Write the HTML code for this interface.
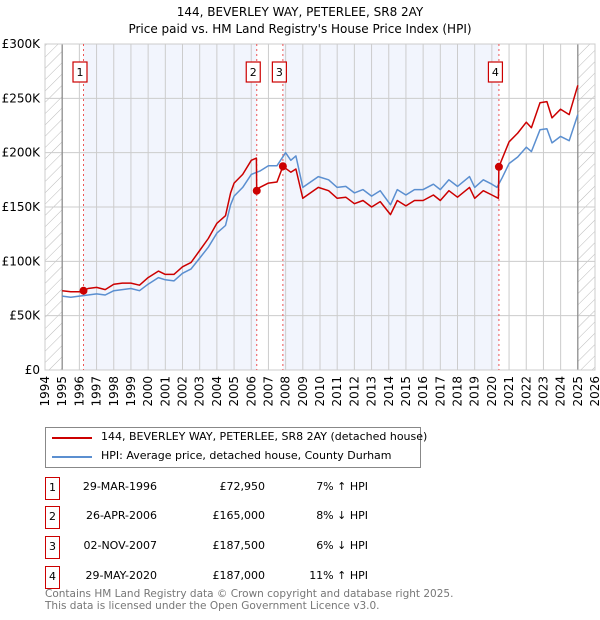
<!DOCTYPE html>
<html><head><meta charset="utf-8"><style>
body{margin:0;background:#fff;font-family:"DejaVu Sans","Liberation Sans",sans-serif;}
#wrap{position:relative;width:600px;height:620px;overflow:hidden}
.t{position:absolute;font-size:11px;color:#000;white-space:nowrap}
.box{position:absolute;border:1.5px solid #c00;background:#fff;font-size:11px;text-align:center;box-sizing:border-box}
</style></head><body><div id="wrap">
<svg id="svg" width="600" height="410" style="position:absolute;left:0;top:0;font-family:'DejaVu Sans',sans-serif">
<defs><pattern id="hatch" width="8" height="8" patternUnits="userSpaceOnUse" patternTransform="rotate(45)"><line x1="0" y1="0" x2="0" y2="8" stroke="#bbb" stroke-width="1"/></pattern></defs>
<text x="300" y="16" text-anchor="middle" font-size="12">144, BEVERLEY WAY, PETERLEE, SR8 2AY</text>
<text x="300" y="33" text-anchor="middle" font-size="12">Price paid vs. HM Land Registry's House Price Index (HPI)</text>
<g id="plot"></g>
</svg>
<div style="position:absolute;left:45px;top:427px;width:376px;height:41px;border:1px solid #888;box-sizing:border-box">
<div style="position:absolute;left:6px;top:9px;width:40px;height:2px;background:#c00"></div>
<div class="t" style="left:55px;top:2px">144, BEVERLEY WAY, PETERLEE, SR8 2AY (detached house)</div>
<div style="position:absolute;left:6px;top:28px;width:40px;height:2px;background:#5b8fd0"></div>
<div class="t" style="left:55px;top:21px">HPI: Average price, detached house, County Durham</div>
</div>
<div id="table"></div>
<div class="t" style="left:45px;top:589px;color:#777;font-size:10.5px;line-height:11.5px">Contains HM Land Registry data © Crown copyright and database right 2025.<br>This data is licensed under the Open Government Licence v3.0.</div>
</div>
<script>
const hpiYears=[1995,1995.5,1996,1996.5,1997,1997.5,1998,1998.5,1999,1999.5,2000,2000.6,2001,2001.5,2002,2002.5,2003,2003.5,2004,2004.5,2004.8,2005,2005.5,2006,2006.5,2007,2007.5,2008,2008.3,2008.6,2009,2009.9,2010.5,2011,2011.5,2012,2012.5,2013,2013.5,2014.1,2014.5,2015,2015.5,2016,2016.6,2017,2017.5,2018,2018.7,2019,2019.5,2020,2020.3,2020.6,2021,2021.5,2022,2022.3,2022.8,2023.2,2023.5,2024,2024.5,2025];
const hpiValues=[68,67,68,69,70,69,73,74,75,73,79,85,83,82,89,93,103,113,126,133,152,160,168,180,183,188,188,200,193,197,168,178,175,168,169,163,166,160,165,152,166,161,166,166,171,166,175,169,178,168,175,171,168,177,190,196,205,201,221,222,209,215,211,235];
const priceYears=[1995,1995.5,1996,1996.24,1996.5,1997,1997.5,1998,1998.5,1999,1999.5,2000,2000.6,2001,2001.5,2002,2002.5,2003,2003.5,2004,2004.5,2004.8,2005,2005.5,2006,2006.3,2006.32,2006.5,2007,2007.5,2007.84,2008.3,2008.6,2009,2009.9,2010.5,2011,2011.5,2012,2012.5,2013,2013.5,2014.1,2014.5,2015,2015.5,2016,2016.6,2017,2017.5,2018,2018.7,2019,2019.5,2020,2020.38,2020.41,2021,2021.5,2022,2022.3,2022.8,2023.2,2023.5,2024,2024.5,2025];
const priceValues=[73,72,72,72.95,75,76,74,79,80,80,78,85,91,88,88,95,99,110,121,135,142,163,172,180,193,195,165,168,172,173,187.5,182,185,158,168,165,158,159,153,156,150,155,143,156,151,156,156,161,156,165,159,168,158,165,161,158,187,210,218,228,223,246,247,232,240,235,262];
const saleLabels=["1","2","3","4"];
const saleYears=[1996.24,2006.32,2007.84,2020.41];
const salePrices=[72.95,165,187.5,187];
const saleDates=["29-MAR-1996","26-APR-2006","02-NOV-2007","29-MAY-2020"];
const salePriceText=["£72,950","£165,000","£187,500","£187,000"];
const saleDiffs=["7% ↑ HPI","8% ↓ HPI","6% ↓ HPI","11% ↑ HPI"];
const yTicks=[0,50,100,150,200,250,300];
const yTickLabels=["£0","£50K","£100K","£150K","£200K","£250K","£300K"];
const xStart=1994,xEnd=2026,dataStart=1995,dataEnd=2025;

const L=45,R=595,T=44,B=370;
const sx=y=>L+(y-xStart)/(xEnd-xStart)*(R-L);
const sy=v=>B-v/300*(B-T);
const NS="http://www.w3.org/2000/svg";
const g=document.getElementById('plot');
function mk(tag,attrs,parent){const e=document.createElementNS(NS,tag);for(const k in attrs)e.setAttribute(k,attrs[k]);(parent||g).appendChild(e);return e;}
for(let i=0;i<saleYears.length;i+=2){
  const end=i+1<saleYears.length?saleYears[i+1]:dataEnd;
  const r=mk('rect',{x:sx(saleYears[i]),y:T,width:sx(end)-sx(saleYears[i]),height:B-T,fill:'#f2f5fd'});
  
  
}
const h1=mk('rect',{x:L,y:T,width:sx(dataStart)-L,height:B-T,fill:'url(#hatch)'});


const h2=mk('rect',{x:sx(dataEnd),y:T,width:R-sx(dataEnd),height:B-T,fill:'url(#hatch)'});


for(let yr=xStart;yr<=xEnd;yr++){
  mk('line',{x1:sx(yr),x2:sx(yr),y1:T,y2:B,stroke:'#ccc','stroke-width':1});
  const t=mk('text',{x:0,y:0,'font-size':12,'text-anchor':'end',transform:`translate(${sx(yr)+4},${B+6}) rotate(-90)`});
  t.textContent=yr;
  
  
}
yTicks.forEach((v,i)=>{
  mk('line',{x1:L,x2:R,y1:sy(v),y2:sy(v),stroke:'#ccc','stroke-width':1});
  const t=mk('text',{x:L-5,y:sy(v)+4,'font-size':12,'text-anchor':'end'});
  t.textContent=yTickLabels[i];
  
  
});
mk('line',{x1:sx(dataStart),x2:sx(dataStart),y1:T,y2:B,stroke:'#888','stroke-width':1.2});
mk('line',{x1:sx(dataEnd),x2:sx(dataEnd),y1:T,y2:B,stroke:'#888','stroke-width':1.2});
mk('rect',{x:L,y:T,width:R-L,height:B-T,fill:'none',stroke:'#ccc'});
saleYears.forEach((y,i)=>{
  const l=mk('line',{x1:sx(y),x2:sx(y),y1:T,y2:B,stroke:'#e55','stroke-width':1,'stroke-dasharray':'2,3'});
  
  
});
function path(xs,vs,color,name){
  const d=xs.map((x,i)=>(i?'L':'M')+sx(x).toFixed(1)+','+sy(vs[i]).toFixed(1)).join('');
  const p=mk('path',{d,fill:'none',stroke:color,'stroke-width':1.5,'stroke-linejoin':'round'});
  
  
}
path(hpiYears,hpiValues,'#5b8fd0','hpi-line');
path(priceYears,priceValues,'#c00','price-line');
saleYears.forEach((y,i)=>{
  const c=mk('circle',{cx:sx(y),cy:sy(salePrices[i]),r:4,fill:'#c00'});
  
  
  const gx=mk('g',{});
  
  
  const cx=sx(y)-3.5;
  mk('rect',{x:cx-7,y:62,width:14,height:20,fill:'#fff',stroke:'#c00','stroke-width':1.2},gx);
  const t=mk('text',{x:cx,y:76,'font-size':11,'text-anchor':'middle'},gx);
  t.textContent=saleLabels[i];
});
const tb=document.getElementById('table');
const rowY=[477,506,536,566];
saleLabels.forEach((s,i)=>{
  const y=rowY[i];
  const b=document.createElement('div');b.className='box';
  b.style.cssText=`left:45px;top:${y}px;width:15px;height:23px;line-height:20px`;b.textContent=s;
  
  
  tb.appendChild(b);
  const cells=[[saleDates[i],157,'table-date'],[salePriceText[i],265,'table-price'],[saleDiffs[i],368,'table-hpi-diff']];
  cells.forEach(c=>{
    const d=document.createElement('div');d.className='t';
    d.style.cssText=`right:${600-c[1]}px;top:${y+3}px`;d.textContent=c[0];
    
    
    tb.appendChild(d);
  });
});
</script></body></html>
